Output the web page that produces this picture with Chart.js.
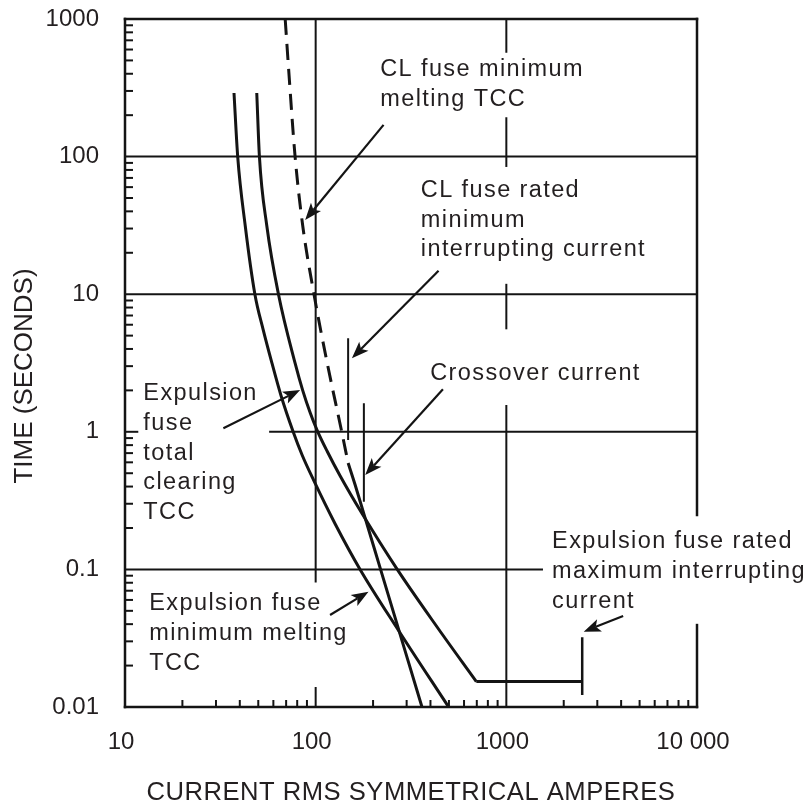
<!DOCTYPE html>
<html>
<head>
<meta charset="utf-8">
<title>Fuse coordination TCC</title>
<script src="https://cdn.jsdelivr.net/npm/chart.js@4.4.1/dist/chart.umd.min.js"></script>
<style>
  html, body { margin: 0; padding: 0; background: #fff; }
  canvas { display: block; }
</style>
</head>
<body>
<canvas id="tcc" width="812" height="801"></canvas>
<script>
// Axis decades (current in A rms symmetrical, time in seconds)
const currentTicks = [10, 100, 1000, 10000];
const currentTickLabels = ['10', '100', '1000', '10 000'];
const timeTicks = [0.01, 0.1, 1, 10, 100, 1000];
const timeTickLabels = ['0.01', '0.1', '1', '10', '100', '1000'];

// Expulsion fuse minimum melting TCC
const expMeltAmps = [37.3, 39.0, 42.7, 48.0, 53.0, 59.0, 65.9, 76.2, 84.9, 97.4, 126.6, 171, 271, 498];
const expMeltSecs = [290, 100, 31.6, 10, 5.55, 3.15, 1.82, 1, 0.678, 0.447, 0.214, 0.1, 0.0363, 0.01];

// Expulsion fuse total clearing TCC, down to its flat limit
const expClearAmps = [49.1, 50.7, 55.4, 63.8, 78, 85.5, 93.6, 101.8, 114.9, 134.5, 175.4, 267.8, 432.5, 696];
const expClearSecs = [290, 100, 31.6, 10, 3.15, 2.0, 1.374, 1.025, 0.722, 0.477, 0.2535, 0.1, 0.0383, 0.0153];
// Flat part up to the rated maximum interrupting current
const expClearFlatAmps = [696, 2500];
const expClearFlatSecs = [0.0153, 0.0153];

// CL fuse minimum melting TCC below its rated minimum interrupting current
const clMeltLowAmps = [69.2, 72, 78, 85.5, 98, 115, 137, 148];
const clMeltLowSecs = [1000, 450, 100, 31.6, 10, 3.15, 1, 0.593];
// ... and above it
const clMeltAmps = [148, 161, 179, 219, 361];
const clMeltSecs = [0.593, 0.4125, 0.2535, 0.1, 0.01];

// Marker currents with the time span each marker covers
const clMinInterruptAmps = [148, 148];
const clMinInterruptSecs = [4.78, 0.872];
const crossoverAmps = [179, 179];
const crossoverSecs = [1.61, 0.31];
const expMaxInterruptAmps = [2500, 2500];
const expMaxInterruptSecs = [0.0321, 0.0122];

// Callouts: text lines, first-baseline anchor [A, s], arrow tail and tip [A, s]
const notes = [
  { lines: ['CL fuse minimum', 'melting TCC'], at: [218, 385], from: [227, 170], to: [88.1, 34.6] },
  { lines: ['CL fuse rated', 'minimum', 'interrupting current'], at: [356, 51.1], from: [441, 14.8], to: [154.9, 3.42] },
  { lines: ['Crossover current'], at: [399, 2.38], from: [465, 2.04], to: [181.9, 0.485] },
  { lines: ['Expulsion', 'fuse', 'total', 'clearing', 'TCC'], at: [12.48, 1.70], from: [32.8, 1.06], to: [82.9, 2.01] },
  { lines: ['Expulsion fuse', 'minimum melting', 'TCC'], at: [13.4, 0.0507], from: [119, 0.0466], to: [189.3, 0.0689] },
  { lines: ['Expulsion fuse rated', 'maximum interrupting', 'current'], at: [1738, 0.1423], from: [4099, 0.0459], to: [2546, 0.0353] }
];

const INK = '#141414';
const TEXT = '#231f20';
const FONT = "'Liberation Sans', Arial, Helvetica, sans-serif";

const pts = (xs, ys) => xs.map((x, i) => ({ x, y: ys[i] }));

// Decade rules of the log-log paper; each lists the stretches that are inked
const frame = {
  verticals: [
    { at: 10, w: 2.5, spans: [[0.01, 1000]] },
    { at: 100, w: 2, spans: [[0.0815, 1000], [0.01, 0.01374]] },
    { at: 1000, w: 2, spans: [[578, 1000], [85.5, 190], [5.65, 11.7], [0.01, 1.54]] },
    { at: 10000, w: 2.5, spans: [[0.2485, 1000], [0.01, 0.0394]] }
  ],
  horizontals: [
    { at: 1000, w: 2.5, spans: [[10, 10000]] },
    { at: 100, w: 2, spans: [[10, 10000]] },
    { at: 10, w: 2, spans: [[10, 10000]] },
    { at: 1, w: 2, spans: [[57.7, 10000], [10, 11.6]] },
    { at: 0.1, w: 2, spans: [[10, 1538]] },
    { at: 0.01, w: 2.5, spans: [[10, 10000]] }
  ]
};

function drawArrow(ctx, x1, y1, x2, y2) {
  const a = Math.atan2(y2 - y1, x2 - x1);
  const len = 17, half = 6.5, notch = 13;
  const c = Math.cos(a), s = Math.sin(a);
  const bx = x2 - len * c, by = y2 - len * s;
  ctx.beginPath();
  ctx.moveTo(x1, y1);
  ctx.lineTo(x2 - notch * c, y2 - notch * s);
  ctx.lineWidth = 2.2;
  ctx.stroke();
  ctx.beginPath();
  ctx.moveTo(x2, y2);
  ctx.lineTo(bx + half * s, by - half * c);
  ctx.lineTo(x2 - notch * c, y2 - notch * s);
  ctx.lineTo(bx - half * s, by + half * c);
  ctx.closePath();
  ctx.fill();
}

const paperPlugin = {
  id: 'tccPaper',
  beforeDatasetsDraw(chart) {
    const { ctx, scales: { x, y } } = chart;
    ctx.save();
    ctx.strokeStyle = INK;
    ctx.lineCap = 'square';
    frame.verticals.forEach(r => {
      const px = x.getPixelForValue(r.at);
      ctx.lineWidth = r.w;
      r.spans.forEach(([t0, t1]) => {
        ctx.beginPath();
        ctx.moveTo(px, y.getPixelForValue(t0));
        ctx.lineTo(px, y.getPixelForValue(t1));
        ctx.stroke();
      });
    });
    frame.horizontals.forEach(r => {
      const py = y.getPixelForValue(r.at);
      ctx.lineWidth = r.w;
      r.spans.forEach(([i0, i1]) => {
        ctx.beginPath();
        ctx.moveTo(x.getPixelForValue(i0), py);
        ctx.lineTo(x.getPixelForValue(i1), py);
        ctx.stroke();
      });
    });
    // minor ticks (2..9 of every decade), pointing into the grid
    ctx.lineCap = 'butt';
    ctx.lineWidth = 2;
    const left = x.getPixelForValue(currentTicks[0]);
    const bottom = y.getPixelForValue(timeTicks[0]);
    for (let d = 0; d < timeTicks.length - 1; d++) {
      for (let k = 2; k <= 9; k++) {
        const py = y.getPixelForValue(timeTicks[d] * k);
        ctx.beginPath();
        ctx.moveTo(left, py);
        ctx.lineTo(left + 8, py);
        ctx.stroke();
      }
    }
    for (let d = 0; d < currentTicks.length - 1; d++) {
      for (let k = 2; k <= 9; k++) {
        const px = x.getPixelForValue(currentTicks[d] * k);
        ctx.beginPath();
        ctx.moveTo(px, bottom);
        ctx.lineTo(px, bottom - 7);
        ctx.stroke();
      }
    }
    ctx.restore();
  },
  afterDatasetsDraw(chart) {
    const { ctx, chartArea: area, scales: { x, y } } = chart;
    ctx.save();
    ctx.fillStyle = TEXT;
    ctx.strokeStyle = INK;
    ctx.textAlign = 'left';
    ctx.textBaseline = 'alphabetic';
    ctx.font = `23.5px ${FONT}`;
    ctx.letterSpacing = '1.4px';
    const lead = 29.8;
    notes.forEach(n => {
      const x0 = x.getPixelForValue(n.at[0]);
      const y0 = y.getPixelForValue(n.at[1]);
      n.lines.forEach((s, i) => ctx.fillText(s, x0, y0 + i * lead));
    });
    ctx.fillStyle = INK;
    notes.forEach(n => {
      drawArrow(ctx,
        x.getPixelForValue(n.from[0]), y.getPixelForValue(n.from[1]),
        x.getPixelForValue(n.to[0]), y.getPixelForValue(n.to[1]));
    });

    // axis titles
    ctx.fillStyle = TEXT;
    ctx.font = `25.6px ${FONT}`;
    ctx.letterSpacing = '0.5px';
    ctx.textAlign = 'center';
    ctx.fillText('CURRENT RMS SYMMETRICAL AMPERES', (area.left + area.right) / 2, 800);
    ctx.translate(32, (area.top + area.bottom) / 2 + 13);
    ctx.rotate(-Math.PI / 2);
    ctx.font = `26px ${FONT}`;
    ctx.letterSpacing = '0px';
    ctx.fillText('TIME (SECONDS)', 0, 0);
    ctx.restore();
  }
};

const curve = (data, extra) => Object.assign({
  data,
  borderColor: INK,
  borderWidth: 3,
  pointRadius: 0,
  fill: false,
  cubicInterpolationMode: 'monotone'
}, extra || {});

const marker = (data, w) => ({
  data,
  borderColor: INK,
  borderWidth: w,
  pointRadius: 0,
  fill: false,
  tension: 0
});

new Chart(document.getElementById('tcc'), {
  type: 'line',
  data: {
    datasets: [
      curve(pts(expMeltAmps, expMeltSecs), { label: 'Expulsion fuse minimum melting TCC' }),
      curve(pts(expClearAmps, expClearSecs), { label: 'Expulsion fuse total clearing TCC' }),
      Object.assign(marker(pts(expClearFlatAmps, expClearFlatSecs), 3), { label: 'Expulsion fuse total clearing TCC (flat)' }),
      curve(pts(clMeltLowAmps, clMeltLowSecs), { label: 'CL fuse minimum melting TCC (below min. interrupting)', borderDash: [16, 9] }),
      curve(pts(clMeltAmps, clMeltSecs), { label: 'CL fuse minimum melting TCC' }),
      Object.assign(marker(pts(clMinInterruptAmps, clMinInterruptSecs), 2), { label: 'CL fuse rated minimum interrupting current' }),
      Object.assign(marker(pts(crossoverAmps, crossoverSecs), 2), { label: 'Crossover current' }),
      Object.assign(marker(pts(expMaxInterruptAmps, expMaxInterruptSecs), 2.5), { label: 'Expulsion fuse rated maximum interrupting current' })
    ]
  },
  options: {
    responsive: false,
    animation: false,
    events: [],
    layout: { padding: { top: 19, right: 115, left: 0, bottom: 0 } },
    plugins: {
      legend: { display: false },
      tooltip: { enabled: false }
    },
    scales: {
      x: {
        type: 'logarithmic',
        min: 10,
        max: 10000,
        grid: { display: false, drawTicks: false },
        border: { display: false },
        afterBuildTicks: s => { s.ticks = currentTicks.map(v => ({ value: v })); },
        afterFit: s => { s.height = 94; s.paddingLeft = 0; s.paddingRight = 0; },
        ticks: {
          autoSkip: false,
          maxRotation: 0,
          padding: 21,
          labelOffset: -4,
          color: TEXT,
          font: { family: FONT, size: 24 },
          callback: v => currentTickLabels[currentTicks.indexOf(v)]
        }
      },
      y: {
        type: 'logarithmic',
        min: 0.01,
        max: 1000,
        grid: { display: false, drawTicks: false },
        border: { display: false },
        afterBuildTicks: s => { s.ticks = timeTicks.map(v => ({ value: v })); },
        afterFit: s => { s.width = 125; s.paddingTop = 0; s.paddingBottom = 0; },
        ticks: {
          autoSkip: false,
          padding: 26,
          color: TEXT,
          font: { family: FONT, size: 24 },
          callback: v => timeTickLabels[timeTicks.indexOf(v)]
        }
      }
    }
  },
  plugins: [paperPlugin]
});
</script>
</body>
</html>
